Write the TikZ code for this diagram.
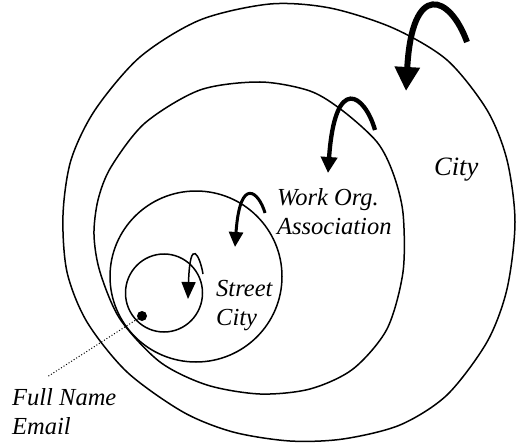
\documentclass[tikz,border=0pt]{standalone}
\usepackage{fontspec}
\setmainfont{Liberation Serif}
\usetikzlibrary{arrows.meta}
\tikzset{
  ring/.style={draw, line width=1.5pt},
  lbl/.style={font=\fontsize{24.5}{29}\selectfont\itshape, align=left, inner sep=0pt},
}
\begin{document}
\begin{tikzpicture}[x=1pt, y=-1pt]
\useasboundingbox (0,0) rectangle (520,444);
% rings
\draw[ring] plot[smooth cycle] coordinates {
  (270,4) (330,8) (393,28) (447,60) (487,110) (507,160) (515,222) (507,289)
  (487,342) (447,395) (400,425) (343,439) (290,441) (233,432) (183,412)
  (127,372) (87,322) (67,272) (63,215) (71,160) (95,110) (140,57) (200,20)};
\draw[ring] plot[smooth cycle] coordinates {
  (260,82) (310,91) (343,111) (377,142) (393,173) (403,213) (403,272)
  (387,329) (353,369) (310,389) (260,394) (207,385) (160,362) (120,319)
  (100,272) (94,235) (98,200) (111,167) (145,123) (200,90)};
\draw[ring] (196,276.5) ellipse [x radius=86, y radius=85.5];
\draw[ring] (164,293) ellipse [x radius=38.5, y radius=39];
% hook arrows
\draw[line width=6pt, -{Triangle[length=24pt,width=24pt]}]
  (467,42) .. controls (450,-5) and (412,-20) .. (406,91);
\draw[line width=4.3pt, -{Triangle[length=16pt,width=16pt]}]
  (375,130) .. controls (365,95) and (335,72) .. (328,173);
\draw[line width=3pt, -{Triangle[length=15pt,width=14pt]}]
  (265,213) .. controls (259,192) and (240,175) .. (235,247);
\draw[line width=1.5pt, -{Triangle[length=17pt,width=14pt]}]
  (203,274) .. controls (200,256) and (190,235) .. (188,299);
% dot and leader
\node[circle, fill, inner sep=0pt, minimum size=10pt] (dot) at (142,316) {};
\coordinate (lead) at (47,377);
\draw[dotted, line width=1pt] (dot) -- (lead);
% labels
\node[lbl, anchor=west, font=\fontsize{26.5}{30}\selectfont\itshape] (city) at (434,170) {City};
\node[lbl, anchor=west] (work) at (277,212) {Work Org.\\Association};
\node[lbl, anchor=west] (street) at (216,306) {Street\\City};
\node[lbl, anchor=west] (person) at (12,412) {Full Name\\Email};
\end{tikzpicture}
\end{document}
